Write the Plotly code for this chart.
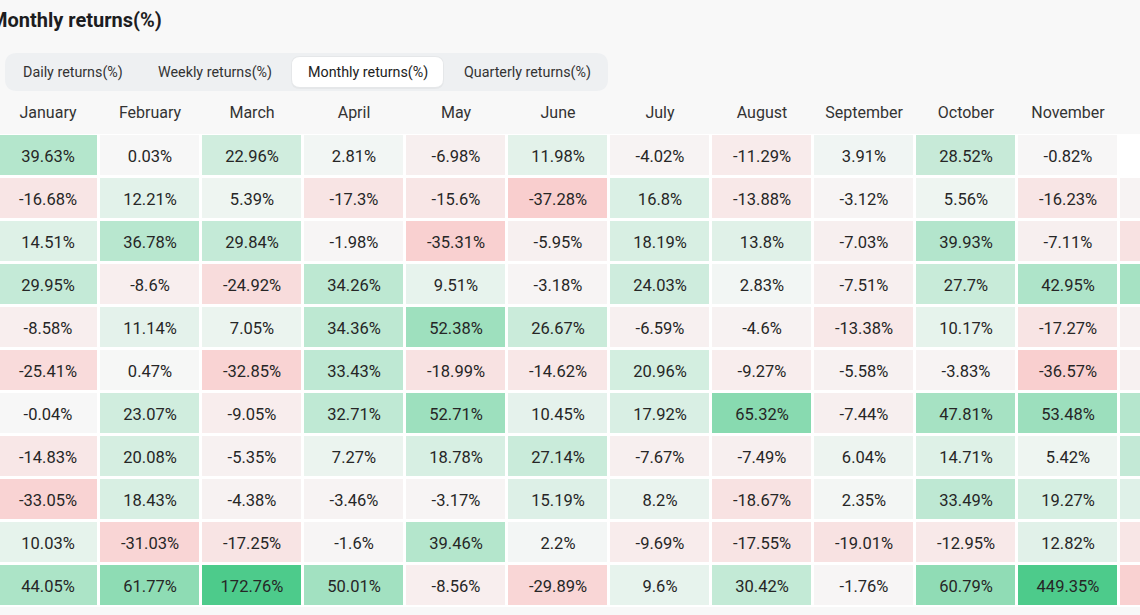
import plotly.graph_objects as go

months = ["January", "February", "March", "April", "May", "June", "July",
          "August", "September", "October", "November", "December"]
years = ["2023", "2022", "2021", "2020", "2019", "2018", "2017", "2016", "2015", "2014", "2013"]

r2023 = [39.63, 0.03, 22.96, 2.81, -6.98, 11.98, -4.02, -11.29, 3.91, 28.52, -0.82, None]
r2022 = [-16.68, 12.21, 5.39, -17.3, -15.6, -37.28, 16.8, -13.88, -3.12, 5.56, -16.23, -3.59]
r2021 = [14.51, 36.78, 29.84, -1.98, -35.31, -5.95, 18.19, 13.8, -7.03, 39.93, -7.11, -18.9]
r2020 = [29.95, -8.6, -24.92, 34.26, 9.51, -3.18, 24.03, 2.83, -7.51, 27.7, 42.95, 47.73]
r2019 = [-8.58, 11.14, 7.05, 34.36, 52.38, 26.67, -6.59, -4.6, -13.38, 10.17, -17.27, -5.15]
r2018 = [-25.41, 0.47, -32.85, 33.43, -18.99, -14.62, 20.96, -9.27, -5.58, -3.83, -36.57, -5.15]
r2017 = [-0.04, 23.07, -9.05, 32.71, 52.71, 10.45, 17.92, 65.32, -7.44, 47.81, 53.48, 38.89]
r2016 = [-14.83, 20.08, -5.35, 7.27, 18.78, 27.14, -7.67, -7.49, 6.04, 14.71, 5.42, 30.8]
r2015 = [-33.05, 18.43, -4.38, -3.46, -3.17, 15.19, 8.2, -18.67, 2.35, 33.49, 19.27, 13.83]
r2014 = [10.03, -31.03, -17.25, -1.6, 39.46, 2.2, -9.69, -17.55, -19.01, -12.95, 12.82, -15.11]
r2013 = [44.05, 61.77, 172.76, 50.01, -8.56, -29.89, 9.6, 30.42, -1.76, 60.79, 449.35, -34.81]

rows = [r2023, r2022, r2021, r2020, r2019, r2018, r2017, r2016, r2015, r2014, r2013]
tabs = ["Daily returns(%)", "Weekly returns(%)", "Monthly returns(%)", "Quarterly returns(%)"]
active_tab = "Monthly returns(%)"

text = [["" if v is None else f"{v}%" for v in row] for row in rows]

W, H = 1140, 615
MT, MB = 134, 8
PH = H - MT - MB
COLW = 102
FIRST_CENTER = 48
BG = "#f8f8f8"


def px(xp):
    return xp / W


def py(yp):
    return (H - MB - yp) / PH


def rounded(x0, y0, x1, y1, r):
    return (f"M {px(x0 + r)} {py(y0)} L {px(x1 - r)} {py(y0)} "
            f"Q {px(x1)} {py(y0)} {px(x1)} {py(y0 + r)} "
            f"L {px(x1)} {py(y1 - r)} Q {px(x1)} {py(y1)} {px(x1 - r)} {py(y1)} "
            f"L {px(x0 + r)} {py(y1)} Q {px(x0)} {py(y1)} {px(x0)} {py(y1 - r)} "
            f"L {px(x0)} {py(y0 + r)} Q {px(x0)} {py(y0)} {px(x0 + r)} {py(y0)} Z")


fig = go.Figure(go.Heatmap(
    z=rows, x=months, y=years,
    text=text, texttemplate="%{text}",
    textfont=dict(family="Roboto", size=16.5, color="#262626"),
    zmin=-50, zmax=100,
    colorscale=[[0.0, "rgb(250,192,192)"], [1 / 3, "rgb(247,247,247)"], [1.0, "rgb(77,203,139)"]],
    showscale=False, xgap=3, ygap=3, hoverinfo="skip",
))

x0 = -FIRST_CENTER / COLW
fig.update_xaxes(range=[x0, x0 + W / COLW], side="top", showgrid=False, zeroline=False,
                 ticks="outside", ticklen=9, tickcolor="rgba(0,0,0,0)",
                 tickfont=dict(family="Roboto", size=16, color="#333333"),
                 showline=False, fixedrange=True)
fig.update_yaxes(range=[len(years) - 0.5, -0.5], visible=False, showgrid=False,
                 zeroline=False, fixedrange=True)

shapes = [
    dict(type="path", xref="paper", yref="paper", path=rounded(5, 53, 608, 91, 12),
         fillcolor="#eef0f2", line=dict(width=0), layer="below"),
    dict(type="path", xref="paper", yref="paper", path=rounded(291, 56, 444, 89, 9),
         fillcolor="rgba(0,0,0,0.035)", line=dict(width=0), layer="below"),
    dict(type="path", xref="paper", yref="paper", path=rounded(292, 57, 443, 87, 8),
         fillcolor="#ffffff", line=dict(width=0), layer="below"),
]

tab_centers = [73, 215, 368, 527]
annotations = [dict(text="<b>Monthly returns(%)</b>", x=0, y=py(20), xref="paper", yref="paper",
                    xanchor="left", yanchor="middle", xshift=-12, showarrow=False,
                    font=dict(family="Roboto", size=20, color="#1d1d1f"))]
for t, c in zip(tabs, tab_centers):
    annotations.append(dict(text=t, x=px(c), y=py(72), xref="paper", yref="paper",
                            xanchor="center", yanchor="middle", showarrow=False,
                            font=dict(family="Roboto", size=14.3,
                                      color="#222222" if t == active_tab else "#333333")))

fig.update_layout(
    width=W, height=H, margin=dict(l=0, r=0, t=MT, b=MB, autoexpand=False),
    paper_bgcolor=BG, plot_bgcolor="#ffffff",
    shapes=shapes, annotations=annotations, showlegend=False,
)

fig.write_html("out.html", config={"displayModeBar": False},
               post_script="document.body.style.margin='0';"
                           "document.body.style.background='" + BG + "';")
